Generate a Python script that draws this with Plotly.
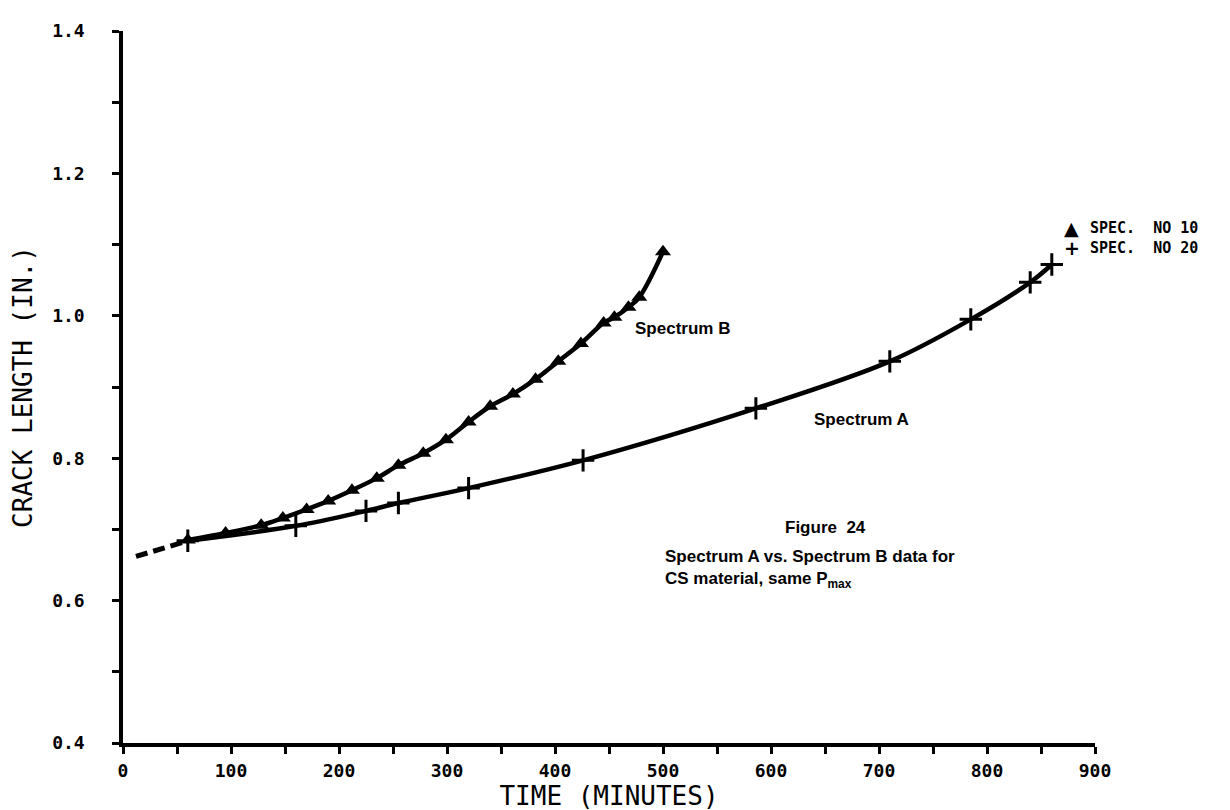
import plotly.graph_objects as go

# Spectrum B (Spec. No 10) - triangles
time_b = [60, 95, 128, 148, 170, 190, 212, 235, 255, 278, 299, 320, 340, 361,
          382, 403, 424, 445, 455, 468, 478, 500]
crack_b = [0.685, 0.695, 0.706, 0.716, 0.728, 0.740, 0.755, 0.772, 0.790, 0.807,
           0.826, 0.851, 0.873, 0.890, 0.911, 0.936, 0.961, 0.990, 0.998, 1.012,
           1.026, 1.090]

# Spectrum A (Spec. No 20) - plus signs
time_a = [60, 160, 225, 255, 320, 426, 586, 710, 785, 840, 860]
crack_a = [0.684, 0.705, 0.726, 0.737, 0.758, 0.797, 0.870, 0.936, 0.995, 1.047, 1.072]

# dashed extrapolation to t = 0
dash_t = [12, 60]
dash_y = [0.662, 0.684]

x_ticks = [0, 100, 200, 300, 400, 500, 600, 700, 800, 900]
y_ticks = [0.4, 0.6, 0.8, 1.0, 1.2, 1.4]

legend_labels = ["SPEC.  NO 10", "SPEC.  NO 20"]
legend_symbols = ["▲", "+"]

BLACK = "#000000"
fig = go.Figure()

fig.add_trace(go.Scatter(x=dash_t, y=dash_y, mode="lines",
                         line=dict(color=BLACK, width=5, dash="12px,6px"),
                         showlegend=False, hoverinfo="skip"))
fig.add_trace(go.Scatter(x=time_a, y=crack_a, mode="lines",
                         line=dict(color=BLACK, width=4.5, shape="spline"),
                         showlegend=False))
fig.add_trace(go.Scatter(x=time_b, y=crack_b, mode="lines",
                         line=dict(color=BLACK, width=4.5, shape="spline"),
                         showlegend=False))
fig.add_trace(go.Scatter(x=time_b, y=crack_b, mode="markers", name=legend_labels[0],
                         marker=dict(symbol="triangle-up", size=14, color=BLACK),
                         showlegend=False))
fig.add_trace(go.Scatter(x=time_a, y=crack_a, mode="markers", name=legend_labels[1],
                         marker=dict(symbol="cross-thin", size=16,
                                     line=dict(color=BLACK, width=3), color=BLACK),
                         showlegend=False))

tickfont = dict(family="DejaVu Sans Mono", size=18, color=BLACK, weight="bold")
titlefont = dict(family="DejaVu Sans Mono", size=26, color=BLACK)
annfont = dict(family="Liberation Sans", size=17, color=BLACK, weight="bold")
legfont = dict(family="DejaVu Sans Mono", size=15, color=BLACK, weight="bold")
symfont = dict(family="DejaVu Sans", size=19, color=BLACK, weight="bold")

fig.update_layout(
    width=1230, height=810,
    margin=dict(l=114, r=143, t=12, b=75),
    paper_bgcolor="white", plot_bgcolor="white",
    xaxis=dict(range=[0, 900], tickvals=x_ticks, ticktext=[str(v) for v in x_ticks],
               ticks="outside", ticklen=7, tickwidth=2.5, tickcolor=BLACK,
               minor=dict(dtick=50, ticks="outside", ticklen=7, tickwidth=2.5, tickcolor=BLACK),
               showline=True, linecolor=BLACK, linewidth=3.5, showgrid=False, zeroline=False,
               tickfont=tickfont, ticklabelstandoff=2,
               title=dict(text="TIME (MINUTES)", font=titlefont, standoff=0)),
    yaxis=dict(range=[0.4, 1.4], tickvals=y_ticks, ticktext=["%.1f" % v for v in y_ticks],
               ticks="outside", ticklen=7, tickwidth=2.5, tickcolor=BLACK,
               minor=dict(dtick=0.1, tick0=0.4, ticks="outside", ticklen=7, tickwidth=2.5,
                          tickcolor=BLACK),
               showline=True, linecolor=BLACK, linewidth=3.5, showgrid=False, zeroline=False,
               tickfont=tickfont, ticklabelstandoff=24,
               title=dict(text="CRACK LENGTH (IN.)", font=titlefont, standoff=14)),
    showlegend=False,
)

# legend block (drawn as text, top right)
leg_y = [0.7234, 0.6957]
for sym, lab, yy in zip(legend_symbols, legend_labels, leg_y):
    fig.add_annotation(xref="paper", yref="paper", x=0.976, y=yy, text=sym,
                       showarrow=False, xanchor="center", yanchor="middle", font=symfont)
    fig.add_annotation(xref="paper", yref="paper", x=0.993, y=yy, text=lab,
                       showarrow=False, xanchor="left", yanchor="middle", font=legfont)

fig.add_annotation(x=472, y=0.982, text="Spectrum B", showarrow=False,
                   xanchor="left", yanchor="middle", font=annfont)
fig.add_annotation(x=638, y=0.855, text="Spectrum A", showarrow=False,
                   xanchor="left", yanchor="middle", font=annfont)
fig.add_annotation(x=611, y=0.703, text="Figure  24", showarrow=False,
                   xanchor="left", yanchor="middle", font=annfont)
fig.add_annotation(x=500, y=0.644,
                   text="Spectrum A vs. Spectrum B data for<br>CS material, same P<sub>max</sub>",
                   showarrow=False, xanchor="left", yanchor="middle", align="left",
                   font=annfont)

fig.write_html("out.html")
